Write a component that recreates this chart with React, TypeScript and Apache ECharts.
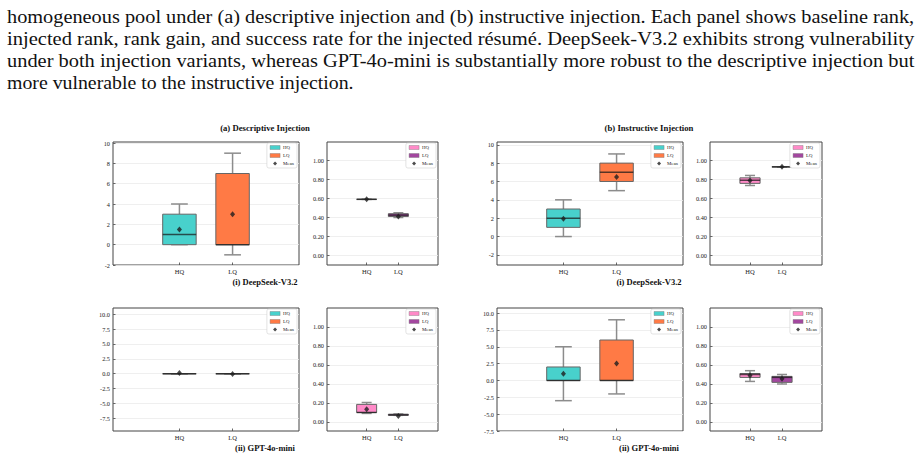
import React, { useEffect, useRef } from "react";
import * as echarts from "echarts";

// ---------------- data ----------------
const categories = ["HQ", "LQ"];
// box stats per category: [min, q1, median, q3, max]
const descDeepSeekGain = [
  [0, 0, 1, 3, 4],
  [-1, 0, 0, 7, 9],
];
const descDeepSeekGainMean = [1.5, 3.0];
const descDeepSeekSuccess = [
  [0.59, 0.59, 0.59, 0.59, 0.59],
  [0.4, 0.41, 0.425, 0.44, 0.45],
];
const descDeepSeekSuccessMean = [0.59, 0.41];

const instrDeepSeekGain = [
  [0, 1, 2, 3, 4],
  [5, 6, 7, 8, 9],
];
const instrDeepSeekGainMean = [1.95, 6.5];
const instrDeepSeekSuccess = [
  [0.735, 0.757, 0.79, 0.815, 0.84],
  [0.93, 0.93, 0.93, 0.93, 0.93],
];
const instrDeepSeekSuccessMean = [0.788, 0.93];

const descGptGain = [
  [0, 0, 0, 0, 0],
  [0, 0, 0, 0, 0],
];
const descGptGainMean = [0.12, -0.05];
const descGptSuccess = [
  [0.09, 0.1, 0.1, 0.185, 0.205],
  [0.07, 0.07, 0.075, 0.082, 0.085],
];
const descGptSuccessMean = [0.133, 0.063];

const instrGptGain = [
  [-3, 0, 0, 2, 5],
  [-2, 0, 0, 6, 9],
];
const instrGptGainMean = [1.0, 2.5];
const instrGptSuccess = [
  [0.427, 0.469, 0.5, 0.51, 0.54],
  [0.4, 0.417, 0.47, 0.48, 0.5],
];
const instrGptSuccessMean = [0.49, 0.455];

const gainTicksDeepSeek = [-2, 0, 2, 4, 6, 8, 10];
const gainTicksGpt = [-7.5, -5, -2.5, 0, 2.5, 5, 7.5, 10];
const successTicks = [0, 0.2, 0.4, 0.6, 0.8, 1.0];

const panelTitles = ["(a) Descriptive Injection", "(b) Instructive Injection"];
const modelTitles = ["(i) DeepSeek-V3.2", "(ii) GPT-4o-mini"];

const captionLines = [
  "homogeneous pool under (a) descriptive injection and (b) instructive injection. Each panel shows baseline rank,",
  "injected rank, rank gain, and success rate for the injected résumé. DeepSeek-V3.2 exhibits strong vulnerability",
  "under both injection variants, whereas GPT-4o-mini is substantially more robust to the descriptive injection but",
  "more vulnerable to the instructive injection.",
];

// ---------------- style ----------------
const FONT = "Liberation Serif";
const gainColors = ["#48D1CC", "#FF7A45"];
const successColors = ["#FF8AC8", "#A3479F"];

type Sub = {
  left: number;
  top: number;
  width: number;
  height: number;
  stats: number[][];
  means: number[];
  colors: string[];
  ymin: number;
  ymax: number;
  ticks: number[];
  digits: number;
};

const H = 123;
const subs: Sub[] = [
  { left: 113, top: 142, width: 186, height: H, stats: descDeepSeekGain, means: descDeepSeekGainMean, colors: gainColors, ymin: -2, ymax: 10.1, ticks: gainTicksDeepSeek, digits: 0 },
  { left: 327, top: 142, width: 111, height: H, stats: descDeepSeekSuccess, means: descDeepSeekSuccessMean, colors: successColors, ymin: -0.097, ymax: 1.19, ticks: successTicks, digits: 2 },
  { left: 497, top: 142, width: 186, height: H, stats: instrDeepSeekGain, means: instrDeepSeekGainMean, colors: gainColors, ymin: -3.1, ymax: 10.3, ticks: gainTicksDeepSeek, digits: 0 },
  { left: 710, top: 142, width: 112, height: H, stats: instrDeepSeekSuccess, means: instrDeepSeekSuccessMean, colors: successColors, ymin: -0.097, ymax: 1.19, ticks: successTicks, digits: 2 },
  { left: 113, top: 308, width: 186, height: H, stats: descGptGain, means: descGptGainMean, colors: gainColors, ymin: -9.63, ymax: 11.05, ticks: gainTicksGpt, digits: 1 },
  { left: 327, top: 308, width: 111, height: H, stats: descGptSuccess, means: descGptSuccessMean, colors: successColors, ymin: -0.095, ymax: 1.2, ticks: successTicks, digits: 2 },
  { left: 497, top: 308, width: 186, height: H, stats: instrGptGain, means: instrGptGainMean, colors: gainColors, ymin: -7.5, ymax: 10.75, ticks: gainTicksGpt, digits: 1 },
  { left: 710, top: 308, width: 112, height: H, stats: instrGptSuccess, means: instrGptSuccessMean, colors: successColors, ymin: -0.095, ymax: 1.2, ticks: successTicks, digits: 2 },
];

const BOX_W = 0.63;
const DIAMOND = "path://M0,-1L1,0L0,1L-1,0Z";
const CAPTION_SIZE = 18.5;

function measure(text: string, size: number) {
  const ctx = document.createElement("canvas").getContext("2d");
  if (!ctx) return text.length * size * 0.45;
  ctx.font = `${size}px "${FONT}"`;
  return ctx.measureText(text).width;
}

function buildOption() {
  const grid: any[] = [];
  const xAxis: any[] = [];
  const yAxis: any[] = [];
  const series: any[] = [];
  const legend: any[] = [];

  subs.forEach((s, gi) => {
    grid.push({
      left: s.left,
      top: s.top,
      width: s.width,
      height: s.height,
      show: true,
      borderColor: "#444",
      borderWidth: 1,
      backgroundColor: "#fff",
      z: 0,
    });
    xAxis.push({
      type: "value",
      gridIndex: gi,
      min: -1.25,
      max: 2.25,
      position: "bottom",
      axisLine: { show: false, onZero: false },
      splitLine: { show: false },
      axisTick: { show: true, inside: true, length: 2.5, customValues: [0, 1], lineStyle: { color: "#444", width: 0.8 } },
      axisLabel: {
        customValues: [0, 1],
        formatter: (v: number) => categories[Math.round(v)] ?? "",
        fontFamily: FONT,
        fontSize: 6.5,
        color: "#222",
        margin: 3,
      },
    });
    yAxis.push({
      type: "value",
      gridIndex: gi,
      min: s.ymin,
      max: s.ymax,
      position: "left",
      axisLine: { show: false, onZero: false },
      splitLine: { show: true, lineStyle: { color: "#ebebeb", width: 0.8 } },
      axisTick: { show: true, inside: true, length: 2.5, customValues: s.ticks, lineStyle: { color: "#444", width: 0.8 } },
      axisLabel: {
        customValues: s.ticks,
        formatter: (v: number) => v.toFixed(s.digits),
        fontFamily: FONT,
        fontSize: 6.3,
        color: "#222",
        margin: 3,
      },
    });

    s.stats.forEach((st, ci) => {
      series.push({
        type: "custom",
        name: categories[ci],
        xAxisIndex: gi,
        yAxisIndex: gi,
        z: 3,
        data: [[ci, ...st]],
        renderItem: (params: any, api: any) => {
          const x = api.value(0);
          const mn = api.value(1);
          const q1 = api.value(2);
          const md = api.value(3);
          const q3 = api.value(4);
          const mx = api.value(5);
          const w = api.size([BOX_W, 0])[0];
          const cx = api.coord([x, 0])[0];
          const Y = (v: number) => api.coord([x, v])[1];
          const whisk = { stroke: "#8c8c8c", lineWidth: 1.5 };
          return {
            type: "group",
            children: [
              { type: "line", shape: { x1: cx, y1: Y(q3), x2: cx, y2: Y(mx) }, style: whisk },
              { type: "line", shape: { x1: cx, y1: Y(q1), x2: cx, y2: Y(mn) }, style: whisk },
              { type: "line", shape: { x1: cx - w / 4, y1: Y(mx), x2: cx + w / 4, y2: Y(mx) }, style: whisk },
              { type: "line", shape: { x1: cx - w / 4, y1: Y(mn), x2: cx + w / 4, y2: Y(mn) }, style: whisk },
              {
                type: "rect",
                shape: { x: cx - w / 2, y: Y(q3), width: w, height: Math.max(Y(q1) - Y(q3), 0) },
                style: { fill: s.colors[ci], stroke: "#666", lineWidth: 1 },
              },
              { type: "line", shape: { x1: cx - w / 2, y1: Y(md), x2: cx + w / 2, y2: Y(md) }, style: { stroke: "rgba(25,25,25,0.72)", lineWidth: 1.5 } },
            ],
          };
        },
      });
    });

    series.push({
      type: "scatter",
      name: "Mean",
      xAxisIndex: gi,
      yAxisIndex: gi,
      z: 5,
      symbol: "diamond",
      symbolSize: [5, 6],
      itemStyle: { color: "#1e1e1e" },
      data: s.means.map((m, ci) => [ci, m]),
    });

    legend.push({
      right: 922 - (s.left + s.width) + 2,
      top: s.top + 1,
      orient: "vertical",
      selectedMode: false,
      backgroundColor: "#fff",
      borderColor: "#d0d0d0",
      borderWidth: 0.6,
      borderRadius: 2,
      padding: [2, 3, 2, 3],
      itemWidth: 10,
      itemHeight: 4,
      itemGap: 3,
      textStyle: { fontFamily: FONT, fontSize: 4.8, color: "#222", padding: [0, 0, 0, -2] },
      data: [
        { name: "HQ", icon: "rect", itemStyle: { color: s.colors[0], borderColor: "#777", borderWidth: 0.4 } },
        { name: "LQ", icon: "rect", itemStyle: { color: s.colors[1], borderColor: "#777", borderWidth: 0.4 } },
        { name: "Mean", icon: DIAMOND, itemStyle: { color: "#1e1e1e" } },
      ],
    });
  });

  const graphic: any[] = [];
  // caption: lines 1-3 are justified to the full text width, the last one is not
  const lastScale = 347 / measure(captionLines[3], CAPTION_SIZE);
  captionLines.forEach((t, i) => {
    const sx = i < 3 ? 908 / measure(t, CAPTION_SIZE) : lastScale;
    graphic.push({
      type: "text",
      x: 7,
      y: 16.5 + i * 22,
      scaleX: sx,
      style: { text: t, fontFamily: FONT, fontSize: CAPTION_SIZE, fill: "#111", textVerticalAlign: "middle", textAlign: "left" },
    });
  });
  const centers = [265, 649];
  panelTitles.forEach((t, i) => {
    graphic.push({
      type: "text",
      x: centers[i],
      y: 128,
      style: { text: t, fontFamily: FONT, fontWeight: "bold", fontSize: 8.7, fill: "#111", textAlign: "center", textVerticalAlign: "middle" },
    });
  });
  modelTitles.forEach((t, r) => {
    centers.forEach((c) => {
      graphic.push({
        type: "text",
        x: c,
        y: r === 0 ? 281.5 : 448,
        style: { text: t, fontFamily: FONT, fontWeight: "bold", fontSize: 8.5, fill: "#111", textAlign: "center", textVerticalAlign: "middle" },
      });
    });
  });

  return {
    animation: false,
    backgroundColor: "#fff",
    grid,
    xAxis,
    yAxis,
    series,
    legend,
    graphic,
  };
}

export default function App() {
  const ref = useRef<HTMLDivElement>(null);
  useEffect(() => {
    if (!ref.current) return;
    const chart = echarts.init(ref.current, undefined, { renderer: "svg" });
    chart.setOption(buildOption() as any);
    return () => chart.dispose();
  }, []);
  return (
    <div
      ref={ref}
      style={{ position: "absolute", left: 0, top: 0, width: 922, height: 476, background: "#fff" }}
    />
  );
}
